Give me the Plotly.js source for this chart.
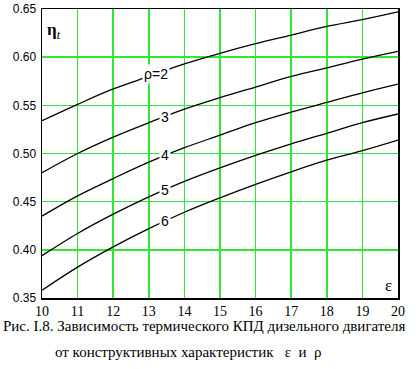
<!DOCTYPE html>
<html><head><meta charset="utf-8">
<script src="https://cdn.plot.ly/plotly-3.0.1.min.js"></script>
<style>body{margin:0;background:#fff}#c{width:420px;height:369px}</style>
</head><body><div id="c"></div>
<script>
const eps = [10,11,12,13,14,15,16,17,18,19,20];
const rho2 = [0.534,0.551,0.567,0.580,0.593,0.604,0.614,0.623,0.632,0.639,0.647];
const rho3 = [0.480,0.500,0.517,0.532,0.546,0.558,0.569,0.580,0.589,0.598,0.606];
const rho4 = [0.435,0.456,0.474,0.491,0.506,0.519,0.532,0.543,0.553,0.563,0.572];
const rho5 = [0.394,0.417,0.437,0.455,0.471,0.485,0.498,0.510,0.521,0.532,0.541];
const rho6 = [0.358,0.382,0.403,0.422,0.439,0.454,0.468,0.481,0.493,0.503,0.514];
const curveLabels = ["ρ=2","3","4","5","6"];
const labelX = [13.2,13.46,13.46,13.46,13.46];
const labelY = [0.583,0.538,0.498,0.462,0.430];
const xTicks = [10,11,12,13,14,15,16,17,18,19,20];
const yTicks = [0.35,0.40,0.45,0.50,0.55,0.60,0.65];

const SERIF = '"Liberation Serif", "DejaVu Serif", serif';
const SANS = '"Liberation Sans", Arial, sans-serif';
const series = [rho2,rho3,rho4,rho5,rho6];
const traces = series.map(s => ({x: eps, y: s, mode:'lines', line:{color:'#000', width:1.3, shape:'spline'}, hoverinfo:'skip'}));

const ann = curveLabels.map((t,i) => ({x: labelX[i], y: labelY[i], text: t, showarrow:false, xref:'x', yref:'y',
  font:{family:SANS, size:14, color:'#000'}, bgcolor:'#fff', borderpad:1}));
ann.push({xref:'paper', yref:'paper', x:0.008, y:0.97, xanchor:'left', yanchor:'top', showarrow:false,
  text:'<b>η</b><sub><i>t</i></sub>', font:{family:SERIF, size:17, color:'#000'}});
ann.push({xref:'paper', yref:'paper', x:0.99, y:0.005, xanchor:'right', yanchor:'bottom', showarrow:false,
  text:'ε', font:{family:SERIF, size:17, color:'#000'}});
ann.push({xref:'paper', yref:'paper', x:-0.114, y:-0.064, xanchor:'left', yanchor:'top', showarrow:false,
  text:'Рис. I.8. Зависимость термического КПД дизельного двигателя', font:{family:SERIF, size:15, color:'#000'}});
ann.push({xref:'paper', yref:'paper', x:0.03, y:-0.153, xanchor:'left', yanchor:'top', showarrow:false,
  text:'от конструктивных характеристик &nbsp; ε &nbsp;и &nbsp;ρ', font:{family:SERIF, size:15, color:'#000'}});

const layout = {
  width:420, height:369, margin:{l:42, r:22, t:9, b:71}, showlegend:false,
  font:{family:SERIF},
  paper_bgcolor:'#fff', plot_bgcolor:'#fff',
  xaxis:{range:[10,20], tickvals:xTicks, ticktext:xTicks.map(String), showgrid:true, gridcolor:'#33e633', gridwidth:1.5,
    showline:true, linecolor:'#000', linewidth:1.5, mirror:true, ticks:'', zeroline:false,
    tickfont:{family:SERIF, size:14, color:'#000'}},
  yaxis:{range:[0.35,0.65], tickvals:yTicks, ticktext:yTicks.map(v=>v.toFixed(2)), showgrid:true, gridcolor:'#33e633', gridwidth:1.5,
    showline:true, linecolor:'#000', linewidth:1.5, mirror:true, ticks:'', zeroline:false, ticklabelstandoff:2,
    tickfont:{family:SANS, size:12, color:'#000'}},
  annotations: ann
};
Plotly.newPlot('c', traces, layout, {displayModeBar:false, staticPlot:true});
</script></body></html>
